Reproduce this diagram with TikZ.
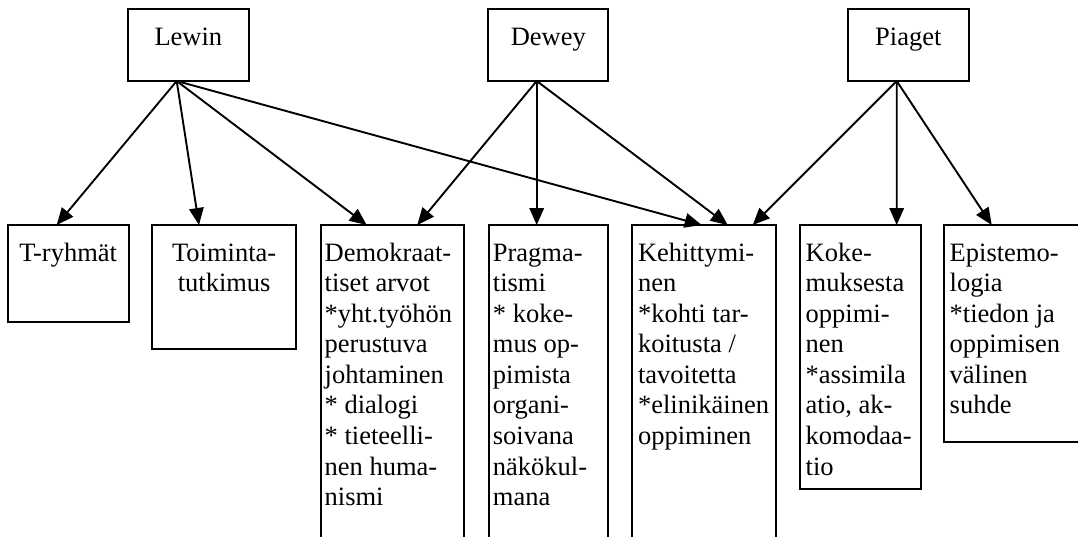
\documentclass[tikz,border=0pt]{standalone}
\usepackage{fontspec}
\setmainfont{Liberation Serif}
\usetikzlibrary{arrows.meta}
\begin{document}
\begin{tikzpicture}[x=1pt,y=-1pt,
  box/.style={draw, line width=2pt, inner sep=0pt, outer sep=0pt},
  tbox/.style={box, anchor=north west},
  txt/.style={font=\fontsize{26.5}{30.58}\selectfont, inner sep=0pt, outer sep=0pt, align=left, anchor=north west},
  ctxt/.style={font=\fontsize{26.5}{30.58}\selectfont, inner sep=0pt, outer sep=0pt, align=center, anchor=north},
  toptxt/.style={font=\fontsize{26.5}{30.58}\selectfont, inner sep=0pt, anchor=base},
  arr/.style={line width=1.9pt, -{Triangle[length=17pt,width=14.5pt]}}]
\useasboundingbox (0,0) rectangle (1078,536);
\clip (0,0) rectangle (1078,536);

% top boxes
\node[box, minimum width=120.7pt, minimum height=71.7pt] (Lewin) at (188.35,45.15) {};
\node[box, minimum width=120pt, minimum height=71.7pt] (Dewey) at (548.3,45.15) {};
\node[box, minimum width=120.7pt, minimum height=71.7pt] (Piaget) at (908.35,45.15) {};
\node[toptxt] (tLewin) at (188.35,45) {Lewin};
\node[toptxt] (tDewey) at (548.3,45) {Dewey};
\node[toptxt] (tPiaget) at (908.35,45) {Piaget};

% bottom boxes
\node[tbox, minimum width=121pt, minimum height=97pt] (T) at (7.7,225) {};
\node[tbox, minimum width=144.3pt, minimum height=123.8pt] (Toim) at (152,225) {};
\node[tbox, minimum width=143.6pt, minimum height=330pt] (Dem) at (320.7,225) {};
\node[tbox, minimum width=119.6pt, minimum height=330pt] (Prag) at (488.7,225) {};
\node[tbox, minimum width=143.7pt, minimum height=330pt] (Keh) at (632.3,225) {};
\node[tbox, minimum width=120.7pt, minimum height=264.3pt] (Koke) at (800,225) {};
\node[tbox, minimum width=140pt, minimum height=216.7pt] (Epis) at (944.3,225) {};

% texts
\node[ctxt] (tT) at (68.2,239.6) {\strut T-ryhmät};
\node[ctxt] (tToim) at (224.15,239.6) {\strut Toiminta-\\tutkimus};
\node[txt] (tDem) at (324.7,239.6) {\strut Demokraat-\\tiset arvot\\*yht.työhön\\perustuva\\johtaminen\\* dialogi\\* tieteelli-\\nen huma-\\nismi};
\node[txt] (tPrag) at (492.9,239.6) {\strut Pragma-\\tismi\\* koke-\\mus op-\\pimista\\organi-\\soivana\\näkökul-\\mana};
\node[txt] (tKeh) at (638,239.6) {\strut Kehittymi-\\nen\\*kohti tar-\\koitusta /\\tavoitetta\\*elinikäinen\\oppiminen};
\node[txt] (tKoke) at (805.7,239.6) {\strut Koke-\\muksesta\\oppimi-\\nen\\*assimila\\atio, ak-\\komodaa-\\tio};
\node[txt] (tEpis) at (949.7,239.6) {\strut Epistemo-\\logia\\*tiedon ja\\oppimisen\\välinen\\suhde};

% arrows
\draw[arr] ([xshift=-11.65pt]Lewin.south) -- ([xshift=-11.5pt]T.north);
\draw[arr] ([xshift=-11.65pt]Lewin.south) -- ([xshift=-25.15pt]Toim.north);
\draw[arr] ([xshift=-11.65pt]Lewin.south) -- ([xshift=-25.8pt]Dem.north);
\draw[arr] ([xshift=-11.65pt]Lewin.south) -- ([xshift=-2.45pt]Keh.north);
\draw[arr] ([xshift=-11.6pt]Dewey.south) -- ([xshift=24.8pt]Dem.north);
\draw[arr] ([xshift=-11.6pt]Dewey.south) -- ([xshift=-11.8pt]Prag.north);
\draw[arr] ([xshift=-11.6pt]Dewey.south) -- ([xshift=23.55pt]Keh.north);
\draw[arr] ([xshift=-11.65pt]Piaget.south) -- ([xshift=48.55pt]Keh.north);
\draw[arr] ([xshift=-11.65pt]Piaget.south) -- ([xshift=36.35pt]Koke.north);
\draw[arr] ([xshift=-11.65pt]Piaget.south) -- ([xshift=-22.6pt]Epis.north);
\end{tikzpicture}
\end{document}
